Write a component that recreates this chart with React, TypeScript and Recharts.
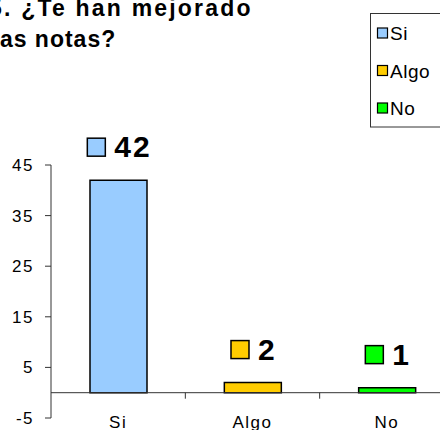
import React from "react";
import { BarChart, Bar, XAxis, YAxis, Cell, LabelList, ReferenceLine } from "recharts";

const categories = ["Si", "Algo", "No"];
const values = [42, 2, 1];
const colors = ["#99CCFF", "#FFCC00", "#00FF00"];
const yTicks = [-5, 5, 15, 25, 35, 45];
const titleLines = ["5. ¿Te han mejorado", "las notas?"];

const data = categories.map((name, i) => ({ name, value: values[i] }));

const FONT = "'Liberation Sans', Arial, sans-serif";
const W = 470;
const H = 460;
const MARGIN = { top: 165, right: 16, bottom: 0, left: 0 };
const Y_AXIS_W = 51;
const X_AXIS_H = 42;
const PLOT_TOP = MARGIN.top;
const PLOT_BOTTOM = H - MARGIN.bottom - X_AXIS_H;
const PLOT_LEFT = MARGIN.left + Y_AXIS_W;
const PLOT_RIGHT = W - MARGIN.right;
const Y_MIN = yTicks[0];
const Y_MAX = yTicks[yTicks.length - 1];
const ZERO_Y = PLOT_TOP + ((PLOT_BOTTOM - PLOT_TOP) * (Y_MAX - 0)) / (Y_MAX - Y_MIN);
const BAND = (PLOT_RIGHT - PLOT_LEFT) / categories.length;
const AXIS_COLOR = "#333";

const XTick = (props: any) => {
  const { x, payload } = props;
  return (
    <g>
      <text x={x} y={PLOT_BOTTOM + 10} textAnchor="middle" fontSize={17} fontFamily={FONT} fill="#000" letterSpacing={1.5}>
        {payload.value}
      </text>
      <line x1={x + BAND / 2} x2={x + BAND / 2} y1={ZERO_Y} y2={ZERO_Y + 6} stroke={AXIS_COLOR} strokeWidth={1} />
    </g>
  );
};

const LABEL_FS = 30;
const LABEL_LS = 2;

const BarLabel = (props: any) => {
  const { x, y, width, value, index } = props;
  const cx = x + width / 2;
  const str = String(value);
  const textW = str.length * 0.556 * LABEL_FS + (str.length - 1) * LABEL_LS;
  const sq = 18;
  const gap = 9;
  const total = sq + gap + textW;
  const left = cx - total / 2;
  const baseline = y - 23;
  return (
    <g>
      <rect x={left} y={baseline - 19} width={sq} height={sq} fill={colors[index]} stroke="#000" strokeWidth={1.5} />
      <text x={left + sq + gap} y={baseline} fontSize={LABEL_FS} fontWeight="bold" fontFamily={FONT} fill="#000" letterSpacing={LABEL_LS}>
        {str}
      </text>
    </g>
  );
};

const titleX = [-11, -7.5];
const titleLS = [2.2, 1];

export default function App() {
  return (
    <div style={{ position: "absolute", left: 0, top: 0, width: 440, height: 430, overflow: "hidden", background: "#fff" }}>
      <BarChart width={W} height={H} data={data} margin={MARGIN}>
        <YAxis
          type="number"
          domain={[Y_MIN, Y_MAX]}
          ticks={yTicks}
          width={Y_AXIS_W}
          tickSize={6}
          tickMargin={11}
          axisLine={{ stroke: AXIS_COLOR }}
          tickLine={{ stroke: AXIS_COLOR }}
          tick={{ fontSize: 17, fill: "#000", fontFamily: FONT, letterSpacing: 1.5 }}
          interval={0}
        />
        <XAxis
          dataKey="name"
          height={X_AXIS_H}
          axisLine={false}
          tickLine={false}
          tickSize={0}
          tickMargin={0}
          interval={0}
          tick={<XTick />}
        />
        <ReferenceLine y={0} stroke={AXIS_COLOR} strokeWidth={1} ifOverflow="visible" />
        <Bar dataKey="value" barSize={57} stroke="#000" strokeWidth={1.5} isAnimationActive={false}>
          {data.map((d, i) => (
            <Cell key={d.name} fill={colors[i]} />
          ))}
          <LabelList dataKey="value" content={<BarLabel />} />
        </Bar>
      </BarChart>
      <svg width={440} height={430} style={{ position: "absolute", left: 0, top: 0, pointerEvents: "none" }}>
        {titleLines.map((t, i) => (
          <text key={i} x={titleX[i]} y={16 + i * 31} fontSize={23} fontWeight="bold" fontFamily={FONT} letterSpacing={titleLS[i]} fill="#000">
            {t}
          </text>
        ))}
        <rect x={370.5} y={13.5} width={100} height={113.5} fill="#fff" stroke={AXIS_COLOR} strokeWidth={1} />
        {categories.map((c, i) => {
          const cy = 33 + i * 37.5;
          return (
            <g key={c}>
              <rect x={377.5} y={cy - 5} width={10} height={10} fill={colors[i]} stroke="#000" strokeWidth={1.2} />
              <text x={390} y={cy + 7} fontSize={19} fontFamily={FONT} fill="#000" letterSpacing={0.5}>
                {c}
              </text>
            </g>
          );
        })}
      </svg>
    </div>
  );
}
